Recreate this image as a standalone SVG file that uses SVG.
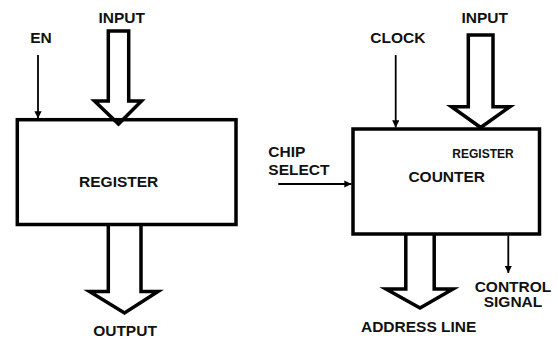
<svg xmlns="http://www.w3.org/2000/svg" width="558" height="340" viewBox="0 0 558 340">
  <style>
    .box { fill: #fff; stroke: #000; stroke-width: 3.5; }
    .bus { fill: none; stroke: #000; stroke-width: 3.5; stroke-linejoin: miter; }
    .sig { fill: none; stroke: #000; stroke-width: 1.8; }
    .lbl { font-family: "Liberation Sans", Arial, sans-serif; font-weight: bold; font-size: 15.5px; fill: #111; }
    .sm { font-size: 12px; }
    .mid { text-anchor: middle; }
  </style>
  <defs>
    <marker id="tip" viewBox="0 0 10 10" refX="10" refY="5" markerWidth="4" markerHeight="4" orient="auto" markerUnits="strokeWidth">
      <path d="M0,0 L10,5 L0,10 z" fill="#000"/>
    </marker>
  </defs>
  <rect width="558" height="340" fill="#fff"/>

  <!-- register block -->
  <g id="register">
    <rect class="box" x="17.3" y="119.7" width="218.7" height="104.8"/>
    <text class="lbl mid" x="118.7" y="186.7">REGISTER</text>
  </g>

  <!-- counter block -->
  <g id="counter">
    <rect class="box" x="353" y="129" width="186.5" height="105"/>
    <text class="lbl mid sm" x="483" y="158">REGISTER</text>
    <text class="lbl mid" x="446.7" y="181.7">COUNTER</text>
  </g>

  <!-- signal labels -->
  <g id="en"><text class="lbl mid" x="41" y="43">EN</text></g>
  <g id="input-reg"><text class="lbl mid" x="121.7" y="23.3">INPUT</text></g>
  <g id="output"><text class="lbl mid" x="125" y="336">OUTPUT</text></g>
  <g id="clock"><text class="lbl mid" x="397.8" y="43">CLOCK</text></g>
  <g id="input-cnt"><text class="lbl mid" x="484.7" y="22.7">INPUT</text></g>
  <g id="chip-select">
    <text class="lbl" x="268.3" y="157.3">CHIP</text>
    <text class="lbl" x="268.3" y="175">SELECT</text>
  </g>
  <g id="control-signal">
    <text class="lbl mid" x="513" y="291.7">CONTROL</text>
    <text class="lbl mid" x="513" y="307.3">SIGNAL</text>
  </g>
  <g id="address-line"><text class="lbl mid" x="418.7" y="332">ADDRESS LINE</text></g>

  <!-- connectors -->
  <g id="connectors">
    <!-- single-bit lines -->
    <line class="sig" x1="38" y1="55" x2="38" y2="118.5" marker-end="url(#tip)"/>
    <line class="sig" x1="395.7" y1="55" x2="395.7" y2="127.5" marker-end="url(#tip)"/>
    <line class="sig" x1="278.3" y1="184" x2="351.5" y2="184" marker-end="url(#tip)"/>
    <line class="sig" x1="508.3" y1="235.5" x2="508.3" y2="273" marker-end="url(#tip)"/>

    <!-- bus arrows -->
    <path class="bus" d="M108.3,31 H128.7 V101 H141.5 L118.5,124 L94.5,101 H108.3 Z"/>
    <path class="bus" d="M468.3,35 H493 V106.7 H510 L480.7,127.5 L451.5,106.7 H468.3 Z"/>
    <path class="bus" d="M108.3,224.5 V291.5 H89.5 L124.5,313 L158,291.5 H141 V224.5"/>
    <path class="bus" d="M405.8,234 V289 H386 L420,308 L453,289 H434.2 V234"/>
  </g>
</svg>
